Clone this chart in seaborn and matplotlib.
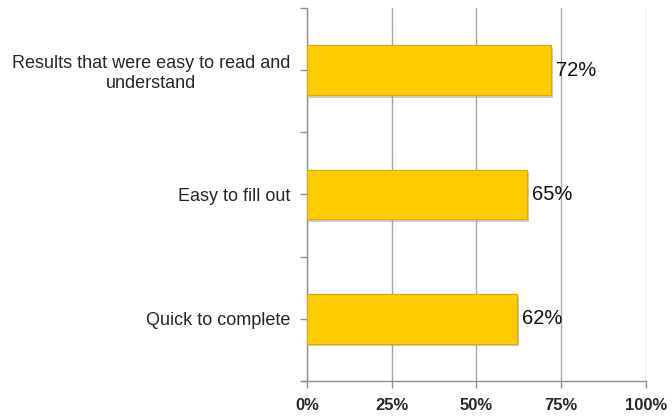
import matplotlib
matplotlib.use("Agg")
import matplotlib.pyplot as plt
import matplotlib.patheffects as pe
import seaborn as sns
import pandas as pd

categories = ["Results that were easy to read and\nunderstand", "Easy to fill out", "Quick to complete"]
values = [72, 65, 62]
xticks = [0, 25, 50, 75, 100]
xtick_labels = ["0%", "25%", "50%", "75%", "100%"]

df = pd.DataFrame({"category": categories, "value": values})

sns.set_theme(style="white")
plt.rcParams["font.family"] = ["Liberation Sans", "DejaVu Sans"]

fig = plt.figure(figsize=(6.72, 4.19), dpi=100)
ax = fig.add_axes([0.457, 0.091, 0.504, 0.890])

sns.barplot(data=df, x="value", y="category", color="#FFCC00", saturation=1,
            width=0.4, edgecolor="#E0A800", linewidth=0.8, ax=ax, zorder=3)
for p in ax.patches:
    p.set_path_effects([pe.SimplePatchShadow(offset=(1.5, -2), shadow_rgbFace="#999999", alpha=0.5), pe.Normal()])

for i, v in enumerate(values):
    ax.text(v + 1.5, i, f"{v}%", va="center", ha="left", fontsize=14.5, color="#111111")

ax.set_xlim(0, 100)
ax.set_ylim(2.5, -0.5)
ax.set_xticks(xticks)
ax.set_xticklabels(xtick_labels, fontweight="bold", fontsize=12)
ax.set_yticks(range(len(categories)))
ax.set_yticklabels(categories, fontsize=13, multialignment="center")
ax.set_yticks([-0.5, 0.5, 1.5, 2.5], minor=True)
ax.set_xlabel("")
ax.set_ylabel("")

ax.xaxis.grid(True, color="#A6A6A6", linewidth=1, zorder=0)
ax.yaxis.grid(False)
for s in ["top", "right"]:
    ax.spines[s].set_visible(False)
for s in ["left", "bottom"]:
    ax.spines[s].set_color("#909090")
    ax.spines[s].set_linewidth(1)
ax.spines["bottom"].set_bounds(-1.5, 100)

ax.tick_params(axis="x", which="major", direction="out", length=5, color="#909090", width=1, pad=7, bottom=True)
ax.tick_params(axis="y", which="both", direction="out", length=5, color="#909090", width=1, left=True)
ax.tick_params(axis="y", which="major", pad=7)

fig.savefig("out.png", dpi=100)
